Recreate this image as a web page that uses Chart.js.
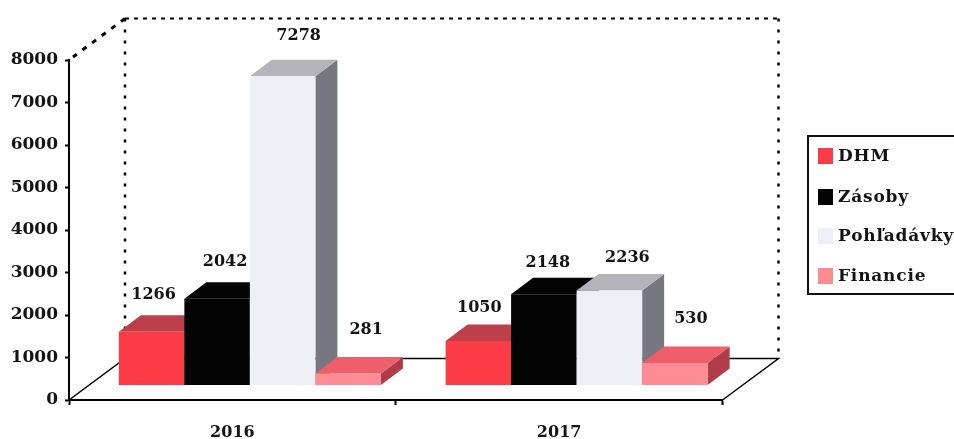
<!DOCTYPE html>
<html>
<head>
<meta charset="utf-8">
<style>
  html, body { margin: 0; padding: 0; background: #fff; }
  canvas { display: block; }
</style>
<script src="https://cdn.jsdelivr.net/npm/chart.js@4"></script>
</head>
<body>
<canvas id="chart" width="954" height="439"></canvas>
<script>
const years = ['2016', '2017'];
const dhm = [1266, 1050];
const zasoby = [2042, 2148];
const pohladavky = [7278, 2236];
const financie = [281, 530];
const yTicks = [0, 1000, 2000, 3000, 4000, 5000, 6000, 7000, 8000];

const FONT = 'bold 16px "DejaVu Serif"';
const INK = '#141414';

// bars sit a bit inside the floor, and everything has a fake 3D depth
const BAR_SHIFT = { x: 17.5, y: -14.5 };
const BAR_DEPTH = { x: 22, y: 16.5 };
const WALL_DEPTH = { x: 56, y: 41.5 };

const faces = [
  { top: '#bd3f49', side: '#a83640' },
  { top: '#040404', side: '#040404' },
  { top: '#b3b3b9', side: '#77777f' },
  { top: '#ee5f6b', side: '#b03c47' }
];

// label nudges per dataset and year, from the bar's top centre
const labelNudge = [
  [[2, -37], [1, -33]],
  [[8, -37], [4, -31]],
  [[16, -40], [18, -33]],
  [[18, -44], [16, -44]]
];

const wallPlugin = {
  id: 'wall',
  beforeDatasetsDraw(chart) {
    const { ctx, chartArea: a } = chart;
    const backL = a.left + WALL_DEPTH.x, backR = a.right + WALL_DEPTH.x;
    const backT = a.top - WALL_DEPTH.y, backB = a.bottom - WALL_DEPTH.y;
    ctx.save();
    ctx.strokeStyle = '#000';

    // floor
    ctx.lineWidth = 1.5;
    ctx.beginPath();
    ctx.moveTo(a.left, a.bottom);
    ctx.lineTo(backL, backB);
    ctx.lineTo(backR, backB);
    ctx.lineTo(a.right, a.bottom);
    ctx.stroke();

    // dotted walls
    ctx.lineWidth = 2.5;
    ctx.setLineDash([3, 8]);
    ctx.beginPath();
    ctx.moveTo(backL, backT);
    ctx.lineTo(backL, backB);
    ctx.moveTo(backR, backT);
    ctx.lineTo(backR, backB);
    ctx.stroke();
    ctx.lineWidth = 2;
    ctx.setLineDash([4, 5]);
    ctx.beginPath();
    ctx.moveTo(backL, backT);
    ctx.lineTo(backR, backT);
    ctx.stroke();
    ctx.lineWidth = 3;
    ctx.setLineDash([5, 7]);
    ctx.beginPath();
    ctx.moveTo(backL, backT);
    ctx.lineTo(a.left + 4, a.top - 3);
    ctx.stroke();
    ctx.restore();
  }
};

function poly(ctx, pts, color) {
  ctx.fillStyle = color;
  ctx.beginPath();
  pts.forEach((p, i) => i ? ctx.lineTo(p[0], p[1]) : ctx.moveTo(p[0], p[1]));
  ctx.closePath();
  ctx.fill();
}

// draws left to right so each front covers the side of the bar before it,
// Chart.js would otherwise paint the datasets last to first
const depthPlugin = {
  id: 'depth',
  beforeDatasetsDraw(chart) {
    const ctx = chart.ctx;
    chart.getSortedVisibleDatasetMetas().forEach(meta => {
      const f = faces[meta.index];
      ctx.save();
      ctx.translate(BAR_SHIFT.x, BAR_SHIFT.y);
      meta.data.forEach(bar => {
        const { x, y, base, width } = bar.getProps(['x', 'y', 'base', 'width'], true);
        const l = x - width / 2, r = x + width / 2;
        const dx = BAR_DEPTH.x, dy = BAR_DEPTH.y;
        poly(ctx, [[r, y], [r + dx, y - dy], [r + dx, base - dy], [r, base]], f.side);
        poly(ctx, [[l, y], [l + dx, y - dy], [r + dx, y - dy], [r, y]], f.top);
      });
      meta.controller.draw();
      ctx.restore();
    });

    ctx.save();
    ctx.font = FONT;
    ctx.fillStyle = INK;
    ctx.textAlign = 'center';
    ctx.textBaseline = 'middle';
    chart.data.datasets.forEach((ds, i) => {
      chart.getDatasetMeta(i).data.forEach((bar, j) => {
        const n = labelNudge[i][j];
        ctx.fillText(ds.data[j], bar.x + BAR_SHIFT.x + n[0], bar.y + BAR_SHIFT.y + n[1]);
      });
    });
    ctx.restore();
    return false;
  }
};

const legendBox = {
  id: 'legendBox',
  afterDraw(chart) {
    const ctx = chart.ctx;
    const rowY = [156, 197, 236, 276];
    ctx.save();
    ctx.strokeStyle = '#111';
    ctx.lineWidth = 2;
    ctx.strokeRect(808, 136, 160, 158);
    ctx.font = 'bold 17px "DejaVu Serif"';
    ctx.letterSpacing = '0.8px';
    ctx.textAlign = 'left';
    ctx.textBaseline = 'middle';
    chart.data.datasets.forEach((ds, i) => {
      ctx.fillStyle = ds.backgroundColor;
      ctx.fillRect(818, rowY[i] - 8, 15, 16);
      ctx.fillStyle = INK;
      ctx.fillText(ds.label, 838, rowY[i] + 1);
    });
    ctx.restore();
  }
};

new Chart(document.getElementById('chart'), {
  type: 'bar',
  data: {
    labels: years,
    datasets: [
      { label: 'DHM', data: dhm, backgroundColor: '#fb3c47' },
      { label: 'Zásoby', data: zasoby, backgroundColor: '#040404' },
      { label: 'Pohľadávky', data: pohladavky, backgroundColor: '#eeeef5' },
      { label: 'Financie', data: financie, backgroundColor: '#ff8b95' }
    ]
  },
  options: {
    responsive: false,
    animation: false,
    layout: { padding: { top: 60, right: 231.5, left: 0, bottom: 0 } },
    plugins: { legend: { display: false }, tooltip: { enabled: false }, title: { display: false } },
    datasets: { bar: { barPercentage: 1, categoryPercentage: 0.802, borderWidth: 0 } },
    scales: {
      x: {
        afterFit: s => { s.height = 39; },
        border: { color: '#000', width: 2 },
        grid: { drawOnChartArea: false, offset: true, tickLength: 5, tickColor: '#000', tickWidth: 2 },
        ticks: { font: { family: '"DejaVu Serif"', size: 16, weight: 'bold' }, color: INK, padding: 18, maxRotation: 0 }
      },
      y: {
        min: 0,
        max: 8000,
        afterFit: s => { s.width = 69; },
        afterBuildTicks: s => { s.ticks = yTicks.map(v => ({ value: v })); },
        border: { color: '#000', width: 2 },
        grid: { drawOnChartArea: false, tickLength: 4, tickColor: '#000', tickWidth: 2 },
        ticks: { font: { family: '"DejaVu Serif"', size: 17, weight: 'bold' }, color: INK, padding: 7, callback: v => String(v) }
      }
    }
  },
  plugins: [wallPlugin, depthPlugin, legendBox]
});
</script>
</body>
</html>
